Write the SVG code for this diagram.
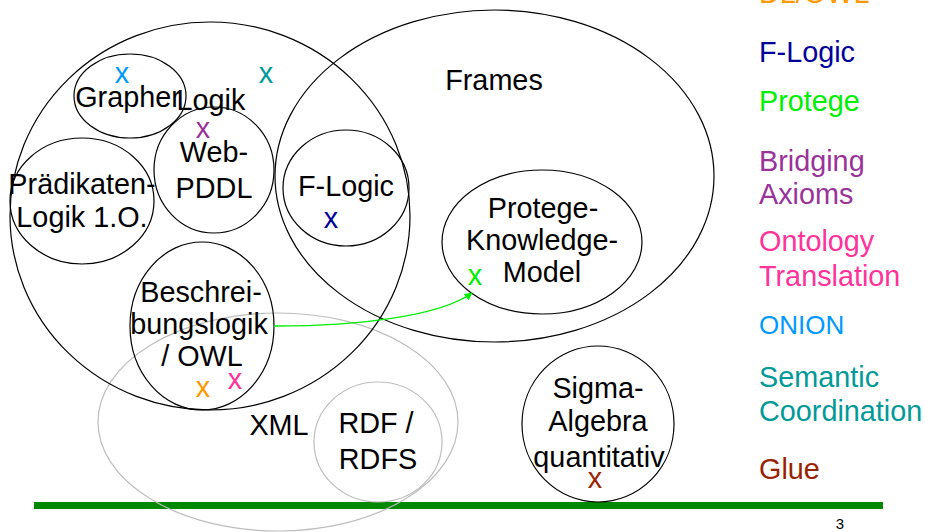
<svg xmlns="http://www.w3.org/2000/svg" width="925" height="532" viewBox="0 0 925 532">
  <style>
    text { font-family: "Liberation Sans", Arial, sans-serif; font-size: 28.8px; fill: #000; }
    .c { text-anchor: middle; }
    .set { fill: none; stroke: #000; stroke-width: 1.2; }
    .xml { fill: none; stroke: #bdbdbd; stroke-width: 1.2; }
    .dl { fill: #ff9900; }
    .fl { fill: #000099; }
    .pr { fill: #00ee00; }
    .ba { fill: #993399; }
    .ot { fill: #ff3399; }
    .on { fill: #0099ff; }
    .sc { fill: #009999; }
    .gl { fill: #992200; }
  </style>
  <defs>
    <marker id="arrow" viewBox="0 0 10 10" refX="9" refY="5" markerWidth="8" markerHeight="8" markerUnits="userSpaceOnUse" orient="auto">
      <path d="M0,0 L10,5 L0,10 z" fill="#00ee00"/>
    </marker>
  </defs>

  <!-- base line -->
  <rect x="34" y="502" width="849" height="7" fill="#008800"/>
  <text x="840" y="529" class="c" style="font-size:15px">3</text>

  <!-- XML region -->
  <g id="xml">
    <ellipse class="xml" cx="278" cy="422" rx="180" ry="109"/>
    <text x="279" y="435" class="c">XML</text>
  </g>
  <g id="rdf">
    <ellipse class="xml" cx="378" cy="442" rx="64" ry="60"/>
    <text x="376" y="433" class="c">RDF /</text>
    <text x="378" y="469" class="c">RDFS</text>
  </g>

  <!-- Logic region -->
  <g id="logik">
    <ellipse class="set" cx="210" cy="216" rx="200" ry="194"/>
    <text x="211" y="110" class="c">Logik</text>
    <text x="266" y="83" class="c sc">x</text>
  </g>
  <g id="grapher">
    <ellipse class="set" cx="130" cy="96" rx="56" ry="42"/>
    <text x="128" y="107" class="c">Grapher</text>
    <text x="122" y="83" class="c on">x</text>
  </g>
  <g id="webpddl">
    <ellipse class="set" cx="214" cy="170" rx="60" ry="63"/>
    <text x="203" y="138" class="c ba">x</text>
    <text x="214" y="162" class="c">Web-</text>
    <text x="214" y="198" class="c">PDDL</text>
  </g>
  <g id="praedikatenlogik">
    <ellipse class="set" cx="82" cy="201" rx="72" ry="63"/>
    <text x="82" y="194" class="c">Prädikaten-</text>
    <text x="82" y="227" class="c">Logik 1.O.</text>
  </g>
  <g id="beschreibungslogik">
    <ellipse class="set" cx="202" cy="326" rx="72" ry="84"/>
    <text x="201" y="302" class="c">Beschrei-</text>
    <text x="199" y="334" class="c">bungslogik</text>
    <text x="202" y="366" class="c">/ OWL</text>
    <text x="203" y="397" class="c dl">x</text>
    <text x="235" y="389" class="c ot">x</text>
  </g>

  <!-- Frames region -->
  <g id="frames">
    <ellipse class="set" cx="494.5" cy="176" rx="219.5" ry="166"/>
    <text x="494" y="90" class="c">Frames</text>
  </g>
  <g id="flogic">
    <ellipse class="set" cx="346" cy="188" rx="63" ry="58"/>
    <text x="346" y="196" class="c">F-Logic</text>
    <text x="331" y="228" class="c fl">x</text>
  </g>
  <g id="protege">
    <ellipse class="set" cx="542" cy="242" rx="100" ry="72"/>
    <text x="543" y="218" class="c">Protege-</text>
    <text x="542" y="250" class="c">Knowledge-</text>
    <text x="542" y="282" class="c">Model</text>
    <text x="475" y="285" class="c pr">x</text>
  </g>

  <g id="sigma">
    <ellipse class="set" cx="598" cy="424" rx="76" ry="78"/>
    <text x="598" y="398" class="c">Sigma-</text>
    <text x="598" y="431" class="c">Algebra</text>
    <text x="599" y="467" class="c">quantitativ</text>
    <text x="595" y="488" class="c gl">x</text>
  </g>

  <!-- connectors -->
  <g id="connectors">
    <path d="M274,326 C360,326 440,316 472,293" fill="none" stroke="#00ee00" stroke-width="1.3" marker-end="url(#arrow)"/>
  </g>

  <!-- legend -->
  <g id="legend">
    <text x="759" y="3" class="dl">DL/OWL</text>
    <text x="759" y="62" class="fl">F-Logic</text>
    <text x="759" y="111" class="pr">Protege</text>
    <text x="759" y="171" class="ba">Bridging</text>
    <text x="759" y="204" class="ba">Axioms</text>
    <text x="759" y="251" class="ot">Ontology</text>
    <text x="759" y="286" class="ot">Translation</text>
    <text x="759" y="334" class="on" style="font-size:26px">ONION</text>
    <text x="759" y="387" class="sc">Semantic</text>
    <text x="759" y="421" class="sc">Coordination</text>
    <text x="759" y="479" class="gl">Glue</text>
  </g>
</svg>
